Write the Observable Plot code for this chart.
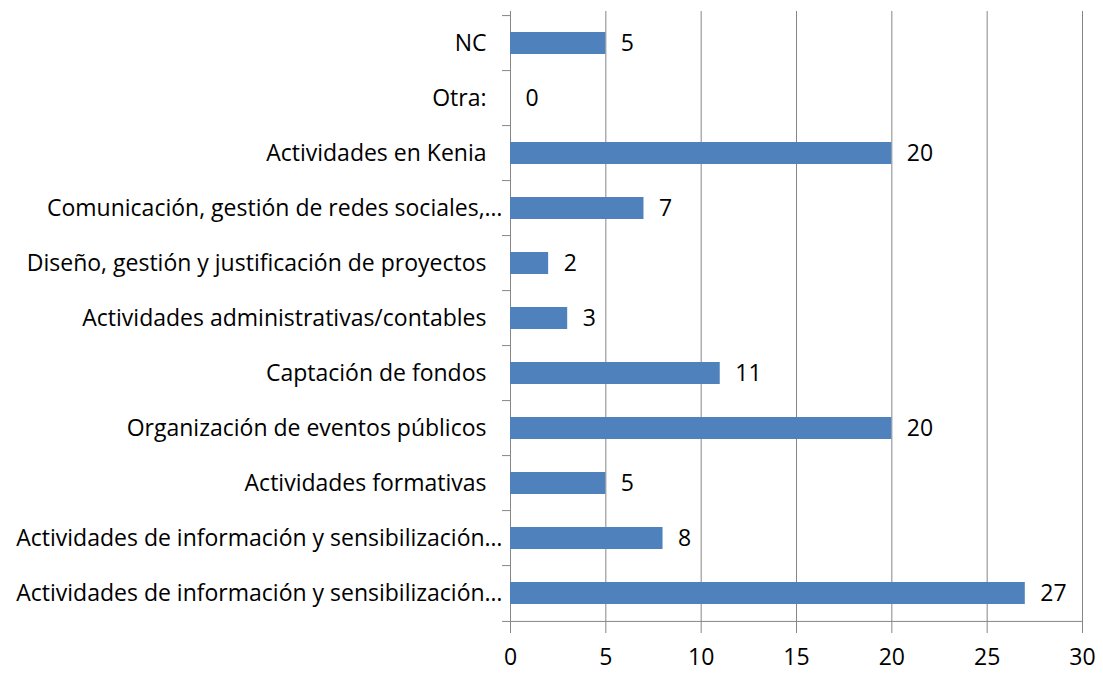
<!DOCTYPE html>
<html><head><meta charset="utf-8">
<script src="https://cdn.jsdelivr.net/npm/d3@7"></script>
<script src="https://cdn.jsdelivr.net/npm/@observablehq/plot@0.6"></script>
<style>body{margin:0;background:#fff}</style>
</head><body><div id="chart"></div>
<script>
const categories = ["NC","Otra:","Actividades en Kenia","Comunicación, gestión de redes sociales,…","Diseño, gestión y justificación de proyectos","Actividades administrativas/contables","Captación de fondos","Organización de eventos públicos","Actividades formativas","Actividades de información y sensibilización…","Actividades de información y sensibilización…"];
const values = [5,0,20,7,2,3,11,20,5,8,27];
const xTicks = [0,5,10,15,20,25,30];
const data = categories.map((c,i)=>({id:i, label:c, value:values[i]}));
const ids = data.map(d=>d.id);
const truncated = ids.filter(i=>categories[i].endsWith("…"));
const full = ids.filter(i=>!categories[i].endsWith("…"));
const W=1103,H=673, mT=11, mB=48, mL=510, mR=21;
const step=(H-mT-mB)/categories.length;
const grey="#868686";
const FS=23;
const chart = Plot.plot({width:W,height:H,marginTop:mT,marginBottom:mB,marginLeft:mL,marginRight:mR,
 style:{fontFamily:"'Open Sans'", fontSize:FS+"px", color:"#000", background:"#fff"},
 x:{domain:[0,30], label:null},
 y:{domain:ids, paddingInner:0.606, paddingOuter:0.303, label:null},
 marks:[
  Plot.gridX(xTicks,{stroke:grey, strokeOpacity:1}),
  Plot.ruleX([0],{stroke:grey}),
  Plot.ruleY(ids,{y:d=>d, x1:-0.42, x2:0, dy:-step/2, stroke:grey}),
  Plot.ruleY([ids[ids.length-1]],{y:d=>d, x1:-0.42, x2:30, dy:step/2, stroke:grey}),
  Plot.barX(data,{y:"id",x:"value",fill:"#4f81bd"}),
  Plot.text(data,{y:"id",x:"value",text:d=>String(d.value),textAnchor:"start",dx:15,fill:"#000",fontSize:FS}),
  Plot.axisY(full,{tickSize:0,tickPadding:24,tickFormat:i=>categories[i],fontSize:FS,fill:"#000",label:null}),
  Plot.axisY(truncated,{tickSize:0,tickPadding:8,tickFormat:i=>categories[i],fontSize:FS,fill:"#000",label:null}),
  Plot.axisX(xTicks,{tickSize:8,tickPadding:15,stroke:grey,fill:"#000",fontSize:FS,label:null})
 ]});
document.getElementById("chart").appendChild(chart);
</script></body></html>
